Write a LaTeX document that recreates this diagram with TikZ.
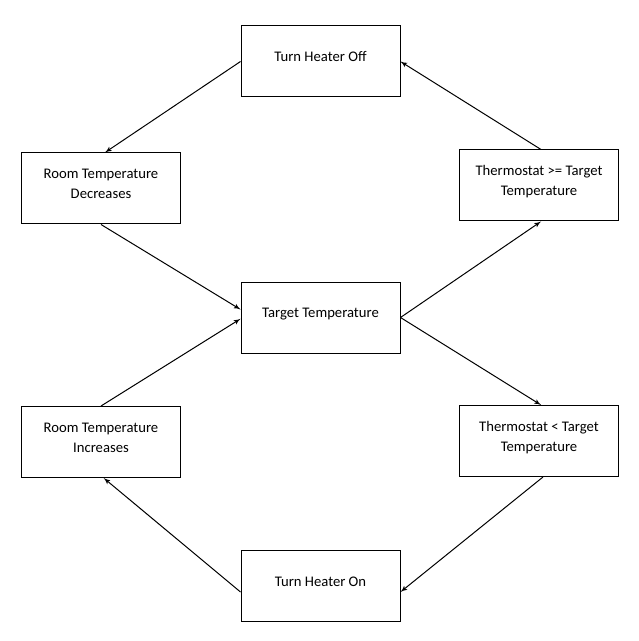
\documentclass[tikz,border=0pt]{standalone}
\usepackage{fontspec}
\setmainfont{Carlito}
\usetikzlibrary{arrows,calc}

\begin{document}
\begin{tikzpicture}[
   x=0.75pt, y=-0.75pt,
   state/.style={
       draw,
       line width=0.75pt,
       minimum width=119.25pt,
       minimum height=53.25pt,
       align=center,
       text depth=7pt,
       font=\fontsize{11}{15}\selectfont
     },
   flow/.style={->,>=latex',line width=0.75pt}
  ]
  \useasboundingbox (0,0) rectangle (638,641);
  % the seven states of the loop
  \node [state] (off) at (320.5,61.5) {Turn Heater Off};
  \node [state] (dec) at (101,188.5) {Room Temperature\\Decreases};
  \node [state] (thg) at (539,185.5) {Thermostat >= Target\\Temperature};
  \node [state] (tgt) at (320.5,317.5) {Target Temperature};
  \node [state] (inc) at (101,442) {Room Temperature\\Increases};
  \node [state] (thl) at (539,441) {Thermostat < Target\\Temperature};
  \node [state] (on) at (320.5,586) {Turn Heater On};
  % connectors
  \draw [flow] (off.west) -- ([xshift=3pt]dec.north);
  \draw [flow] (dec.south) -- ([yshift=6pt]tgt.west);
  \draw [flow] (inc.north) -- ([yshift=-1pt]tgt.west);
  \draw [flow] (tgt.east) -- ([xshift=1.5pt]thg.south);
  \draw [flow] (tgt.east) -- ([xshift=1.5pt]thl.north);
  \draw [flow] ([xshift=1.5pt]thg.north) -- (off.east);
  \draw [flow] ([xshift=3pt]thl.south) -- ([yshift=-4.5pt]on.east);
  \draw [flow] ([yshift=-4.5pt]on.west) -- ([xshift=2pt]inc.south);
\end{tikzpicture}
\end{document}
